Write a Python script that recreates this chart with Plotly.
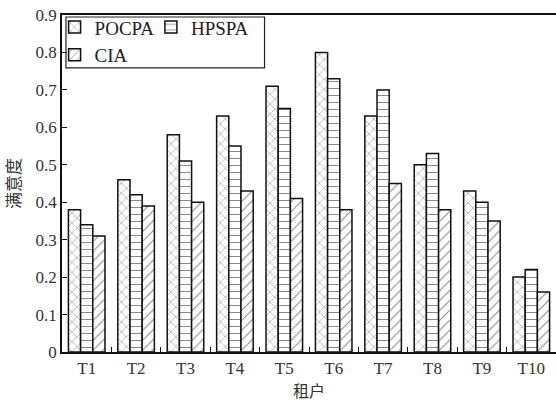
import plotly.graph_objects as go

categories = ["T1", "T2", "T3", "T4", "T5", "T6", "T7", "T8", "T9", "T10"]
pocpa = [0.38, 0.46, 0.58, 0.63, 0.71, 0.80, 0.63, 0.50, 0.43, 0.20]
hpspa = [0.34, 0.42, 0.51, 0.55, 0.65, 0.73, 0.70, 0.53, 0.40, 0.22]
cia = [0.31, 0.39, 0.40, 0.43, 0.41, 0.38, 0.45, 0.38, 0.35, 0.16]
yticks = [0, 0.1, 0.2, 0.3, 0.4, 0.5, 0.6, 0.7, 0.8, 0.9]
ytick_text = ["0", "0.1", "0.2", "0.3", "0.4", "0.5", "0.6", "0.7", "0.8", "0.9"]

SERIF = "Liberation Serif"
CJK = "Noto Sans CJK SC"

def bar(name, vals, shape, legend):
    return go.Bar(
        name=name, x=categories, y=vals, legend=legend,
        marker=dict(
            color="white",
            line=dict(color="#111111", width=1.5),
            pattern=dict(shape=shape, fgcolor="#8a8a8a", bgcolor="white",
                         size=7, solidity=0.15, fillmode="replace"),
        ),
    )

fig = go.Figure()
fig.add_trace(bar("POCPA", pocpa, "x", "legend"))
fig.add_trace(bar("HPSPA", hpspa, "-", "legend2"))
fig.add_trace(bar("CIA", cia, "/", "legend"))

fig.update_layout(
    width=556, height=402,
    margin=dict(l=62, r=0, t=15, b=50, autoexpand=False),
    paper_bgcolor="white", plot_bgcolor="white",
    barmode="group", bargap=0.26, bargroupgap=0,
    font=dict(family=SERIF, size=16, color="#222222"),
    legend=dict(x=-0.015, y=1.02, xanchor="left", yanchor="top",
                bgcolor="rgba(0,0,0,0)", borderwidth=0,
                font=dict(family=SERIF, size=19, color="#222222"),
                tracegroupgap=0, itemwidth=30,
                traceorder="normal"),
    legend2=dict(x=0.18, y=1.02, xanchor="left", yanchor="top",
                 bgcolor="rgba(0,0,0,0)", borderwidth=0,
                 font=dict(family=SERIF, size=19, color="#222222"),
                 itemwidth=30),
    shapes=[dict(type="rect", xref="paper", yref="paper",
                 x0=0.008, x1=0.41, y0=0.843, y1=0.994,
                 line=dict(color="#222222", width=1.2), fillcolor="rgba(0,0,0,0)")],
    showlegend=True,
)

fig.update_xaxes(
    type="category", tickson="boundaries", ticks="inside", ticklen=5,
    tickcolor="#111111", showline=True, linecolor="#111111", linewidth=1.5,
    mirror=True, showgrid=False, automargin=False,
    tickfont=dict(family=SERIF, size=17, color="#333333"),
    title=dict(text="租户", font=dict(family=CJK, size=16, color="#333333"), standoff=4),
)
fig.update_yaxes(
    range=[0, 0.9], tickvals=yticks, ticktext=ytick_text,
    ticks="inside", ticklen=5, tickcolor="#111111",
    showline=True, linecolor="#111111", linewidth=1.5, mirror=False,
    showgrid=False, zeroline=False, automargin=False, ticklabeloverflow="allow",
    tickfont=dict(family=SERIF, size=17, color="#333333"),
    title=dict(text="满意度", font=dict(family=CJK, size=17, color="#333333"), standoff=12),
)

# remove the default 8px page margin so the figure sits at the window's corner
fig.write_html("out.html", config={"displayModeBar": False},
               post_script="document.body.style.margin='0';")
